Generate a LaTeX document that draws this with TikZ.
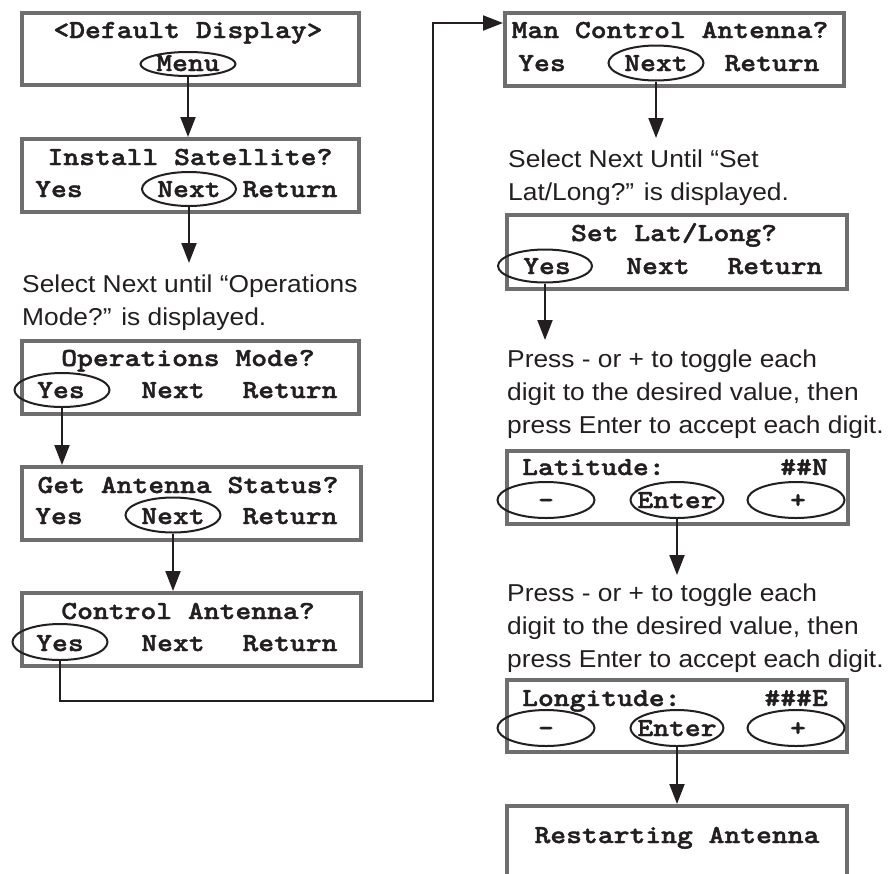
\documentclass[tikz,border=0pt]{standalone}
\usepackage{fontspec}
\setmainfont{Liberation Sans}
\newfontfamily\lcdfont{lmmonolt10-bold}[Extension=.otf, FakeStretch=1.16, FakeBold=1.6]
\newfontfamily\descfont[FakeStretch=1.08]{Liberation Sans}
\usetikzlibrary{arrows.meta,shapes.geometric}
\definecolor{boxgray}{HTML}{6E6E6E}
\definecolor{ink}{HTML}{231F20}
\tikzset{
  lcd/.style={draw=boxgray, line width=3.5pt, fill=white, rectangle, anchor=north west, inner sep=0pt},
  mono/.style={font=\lcdfont\fontsize{26}{30}\selectfont, text=ink, inner sep=0pt, anchor=base},
  btn/.style={draw=ink, line width=2pt, ellipse, inner sep=0pt},
  desc/.style={font=\descfont\fontsize{24.4}{33}\selectfont, text=ink, inner sep=0pt, anchor=north west, align=left},
  conn/.style={draw=ink, line width=2pt, -{Triangle[length=20pt,width=15pt]}}
}
\begin{document}
\begin{tikzpicture}[x=1pt,y=-1pt]
\useasboundingbox (0,0) rectangle (890,873);

% ---------- boxes ----------
\node[lcd, minimum width=337, minimum height=72] (b1) at (20,11) {};
\node[lcd, minimum width=337, minimum height=73] (b2) at (20,137) {};
\node[lcd, minimum width=337, minimum height=73] (b3) at (20,339) {};
\node[lcd, minimum width=339, minimum height=73] (b4) at (20,465) {};
\node[lcd, minimum width=339, minimum height=73] (b5) at (20,591) {};
\node[lcd, minimum width=339, minimum height=73] (b6) at (503,11) {};
\node[lcd, minimum width=340, minimum height=74] (b7) at (505,213) {};
\node[lcd, minimum width=341, minimum height=73] (b8) at (505,449) {};
\node[lcd, minimum width=340, minimum height=72] (b9) at (505,678) {};
\node[lcd, minimum width=340, minimum height=120] (b10) at (505,804) {};

% ---------- button ellipses ----------
\node[btn, minimum width=95, minimum height=24] (e1) at (188,64) {};
\node[btn, minimum width=94, minimum height=34] (e2) at (189,189) {};
\node[btn, minimum width=95, minimum height=34] (e3) at (62,390) {};
\node[btn, minimum width=95, minimum height=35] (e4) at (173,515) {};
\node[btn, minimum width=95, minimum height=36] (e5) at (60,642) {};
\node[btn, minimum width=95, minimum height=35] (e6) at (656,63) {};
\node[btn, minimum width=94, minimum height=33] (e7) at (545,266) {};
\node[btn, minimum width=97, minimum height=36] (e8m) at (546,500) {};
\node[btn, minimum width=93, minimum height=36] (e8e) at (677,500) {};
\node[btn, minimum width=97, minimum height=36] (e8p) at (796,500) {};
\node[btn, minimum width=97, minimum height=36] (e9m) at (546,728) {};
\node[btn, minimum width=93, minimum height=36] (e9e) at (677,728) {};
\node[btn, minimum width=97, minimum height=36] (e9p) at (796,728) {};

% ---------- LCD texts ----------
\node[mono] (t1a) at (188,38) {<Default Display>};
\node[mono] (t1b) at (188,71) {Menu};

\node[mono] (t2a) at (190,165) {Install Satellite?};
\node[mono] (t2b) at (59,197) {Yes};
\node[mono] (t2c) at (189,197) {Next};
\node[mono] (t2d) at (290,197) {Return};

\node[mono] (t3a) at (188,366) {Operations Mode?};
\node[mono] (t3b) at (61,398) {Yes};
\node[mono] (t3c) at (173,398) {Next};
\node[mono] (t3d) at (290,398) {Return};

\node[mono] (t4a) at (188,493) {Get Antenna Status?};
\node[mono] (t4b) at (59,524) {Yes};
\node[mono] (t4c) at (173,524) {Next};
\node[mono] (t4d) at (290,524) {Return};

\node[mono] (t5a) at (188,619) {Control Antenna?};
\node[mono] (t5b) at (60,651) {Yes};
\node[mono] (t5c) at (173,651) {Next};
\node[mono] (t5d) at (290,651) {Return};

\node[mono] (t6a) at (670,38) {Man Control Antenna?};
\node[mono] (t6b) at (542,71) {Yes};
\node[mono] (t6c) at (656,71) {Next};
\node[mono] (t6d) at (772,71) {Return};

\node[mono] (t7a) at (674,241) {Set Lat/Long?};
\node[mono] (t7b) at (547,274) {Yes};
\node[mono] (t7c) at (658,274) {Next};
\node[mono] (t7d) at (775,274) {Return};

\node[mono, anchor=base west] (t8a) at (522,475) {Latitude:};
\node[mono, anchor=base east] (t8b) at (828,475) {\#\#N};
\node[mono] (t8c) at (546,508) {-};
\node[mono] (t8d) at (677,508) {Enter};
\node[mono] (t8e) at (798,508) {+};

\node[mono, anchor=base west] (t9a) at (522,706) {Longitude:};
\node[mono, anchor=base east] (t9b) at (828,706) {\#\#\#E};
\node[mono] (t9c) at (546,736) {-};
\node[mono] (t9d) at (677,736) {Enter};
\node[mono] (t9e) at (798,736) {+};

\node[mono] (t10) at (677,843) {Restarting Antenna};

% ---------- instructions ----------
\node[desc] (d1) at (22,275) {Select Next until “Operations\\Mode?” is displayed.};
\node[desc] (d2) at (508,150) {Select Next Until “Set\\Lat/Long?” is displayed.};
\node[desc] (d3) at (507,350) {Press - or + to toggle each\\digit to the desired value, then\\press Enter to accept each digit.};
\node[desc] (d4) at (507,584) {Press - or + to toggle each\\digit to the desired value, then\\press Enter to accept each digit.};

% ---------- connectors ----------
\coordinate (a2) at (189,263);
\coordinate (a6) at (656,138);
\coordinate (a7) at (545,340);
\coordinate (a8) at (677,575);
\coordinate (bend) at (433,701);
\coordinate (top) at (433,23);

\draw[conn] (e1.south) -- (e1.south |- b2.north);
\draw[conn] (e2.south) -- (a2);
\draw[conn] (e3.south) -- (e3.south |- b4.north);
\draw[conn] (e4.south) -- (e4.south |- b5.north);
\draw[conn] (e5.south) |- (bend) -- (top) -- (top -| b6.west);
\draw[conn] (e6.south) -- (a6);
\draw[conn] (e7.south) -- (a7);
\draw[conn] (e8e.south) -- (a8);
\draw[conn] (e9e.south) -- (e9e.south |- b10.north);
\end{tikzpicture}
\end{document}
